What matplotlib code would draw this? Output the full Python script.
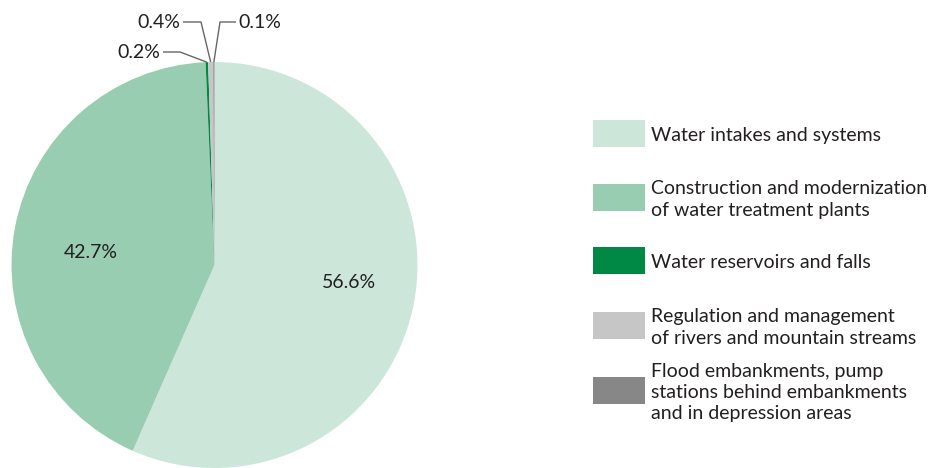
import matplotlib
matplotlib.use("Agg")
import matplotlib.pyplot as plt
from matplotlib.patches import Rectangle
import numpy as np

# Shares of spending by purpose (%)
categories = [
    "Water intakes and systems",
    "Construction and modernization\nof water treatment plants",
    "Water reservoirs and falls",
    "Regulation and management\nof rivers and mountain streams",
    "Flood embankments, pump\nstations behind embankments\nand in depression areas",
]
shares = [56.6, 42.7, 0.2, 0.4, 0.1]
share_labels = ["56.6%", "42.7%", "0.2%", "0.4%", "0.1%"]
colors = ["#cce7da", "#99cdb2", "#008845", "#c6c6c6", "#878787"]

W, H = 936, 468
TXT = "#231f20"
FONT = "Lato"
FS = 14

fig = plt.figure(figsize=(W / 100, H / 100), dpi=100)
ax = fig.add_axes([0, 0, 1, 1])


def Y(y):
    return H - y


cx, cy, r = 214.5, Y(265), 203
wedges, _ = ax.pie(shares, colors=colors, startangle=90, counterclock=False,
                   center=(cx, cy), radius=r, frame=True,
                   wedgeprops=dict(linewidth=0))
ax.set_xlim(0, W)
ax.set_ylim(0, H)
ax.set_aspect("equal")
ax.axis("off")

# Labels inside the two large slices
ax.text(349, Y(283), share_labels[0], ha="center", va="center",
        fontsize=FS, family=FONT, color=TXT)
ax.text(91, Y(253), share_labels[1], ha="center", va="center",
        fontsize=FS, family=FONT, color=TXT)

# Small slices: leader lines from the rim to labels above the pie
def rim_point(w):
    a = np.deg2rad((w.theta1 + w.theta2) / 2)
    return cx + r * np.cos(a), cy + r * np.sin(a)

leaders = {
    2: dict(text_xy=(160, 53), elbow=(180, 52), ha="right"),
    3: dict(text_xy=(180, 23), elbow=(201, 22), ha="right"),
    4: dict(text_xy=(238, 23), elbow=(220, 22), ha="left"),
}
for i, spec in leaders.items():
    px, py = rim_point(wedges[i])
    tx, ty = spec["text_xy"]
    ex, ey = spec["elbow"]
    start_x = tx + 3 if spec["ha"] == "right" else tx - 2
    ax.plot([start_x, ex, px], [Y(ey), Y(ey), py], color="#666666", lw=1.0,
            solid_capstyle="butt")
    ax.text(tx, Y(ty), share_labels[i], ha=spec["ha"], va="center",
            fontsize=FS, family=FONT, color=TXT)

# Legend
patch_x, patch_w, patch_h = 593, 52, 27
patch_centers = [133.5, 197, 260, 325, 390]
for cat, col, yc in zip(categories, colors, patch_centers):
    ax.add_patch(Rectangle((patch_x, Y(yc + patch_h / 2)), patch_w, patch_h,
                           facecolor=col, edgecolor="none"))
    ax.text(patch_x + 58, Y(yc + 2.5), cat, ha="left", va="center",
            fontsize=FS, family=FONT, color=TXT, linespacing=1.3)

fig.savefig("out.png", dpi=100)
